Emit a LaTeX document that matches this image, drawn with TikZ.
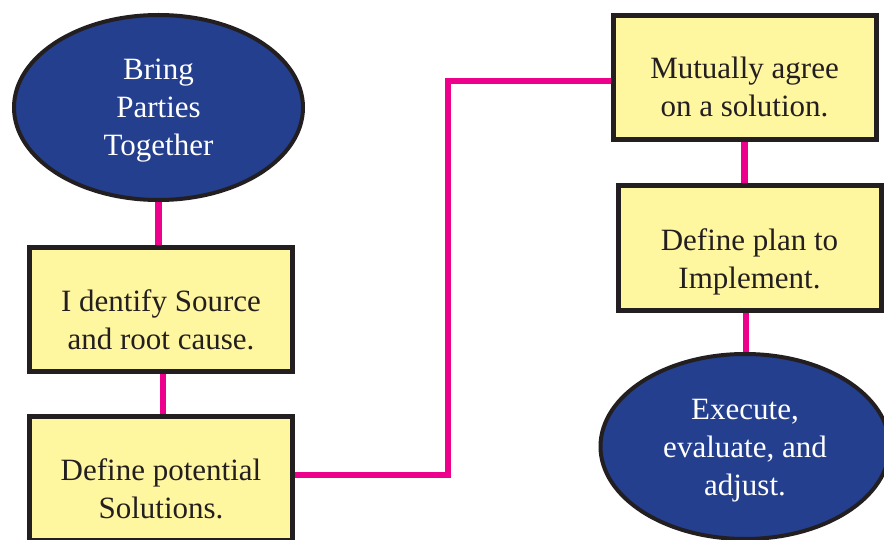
\documentclass[tikz,border=0pt]{standalone}
\usepackage{fontspec}
\setmainfont{Liberation Serif}
\usetikzlibrary{shapes.geometric,backgrounds}
\definecolor{ovalblue}{HTML}{243F8E}
\definecolor{boxyellow}{HTML}{FFF6A0}
\definecolor{edgedark}{HTML}{231F20}
\definecolor{linkpink}{HTML}{EC008C}
\tikzset{
  ovalnode/.style={ellipse, draw=edgedark, fill=ovalblue, line width=4pt, minimum width=289pt, minimum height=185pt, inner sep=0pt},
  boxnode/.style={rectangle, draw=edgedark, fill=boxyellow, line width=5pt, minimum width=263pt, minimum height=124pt, inner sep=0pt},
  txt/.style={align=center, font=\fontsize{31}{38}\selectfont, inner sep=0pt, anchor=base, text=edgedark},
  wtxt/.style={txt, text=white},
  link/.style={draw=linkpink, line width=6.5pt}
}
\begin{document}
\begin{tikzpicture}[x=1pt,y=-1pt]
\useasboundingbox (0,0) rectangle (884,540);
\clip (0,0) rectangle (884,540);
\node[ovalnode] (e1) at (158.5,107.5) {};
\node[boxnode] (b1) at (161,309.5) {};
\node[boxnode] (b2) at (161,478.5) {};
\node[boxnode] (b3) at (744.5,77.5) {};
\node[boxnode, minimum height=125pt] (b4) at (749.5,248) {};
\node[ovalnode] (e2) at (745,446.5) {};
\node[wtxt] (t1) at (158.5,156) {Bring\\Parties\\Together};
\node[txt] (t2) at (161,349) {I dentify Source\\and root cause.};
\node[txt] (t3) at (161,518) {Define potential\\Solutions.};
\node[txt] (t4) at (744.5,117) {Mutually agree\\on a solution.};
\node[txt] (t5) at (749.5,288) {Define plan to\\Implement.};
\node[wtxt] (t6) at (745,495) {Execute,\\evaluate, and\\adjust.};
\coordinate (k1) at (448,475);
\coordinate (k2) at (448,81);
\begin{scope}[on background layer]
\fill[white] (0,0) rectangle (884,540);
\draw[link] (e1.south) -- (e1.south |- b1.north);
\draw[link] ([xshift=2pt]b1.south) -- ([xshift=2pt]b2.north);
\draw[link] (b2.east |- k1) -- (k1) -- (k2) -- (b3.west |- k2);
\draw[link] (b3.south) -- (b3.south |- b4.north);
\draw[link] ([xshift=-3.5pt]b4.south) -- ([xshift=-3.5pt]b4.south |- e2.north);
\end{scope}
\end{tikzpicture}
\end{document}
